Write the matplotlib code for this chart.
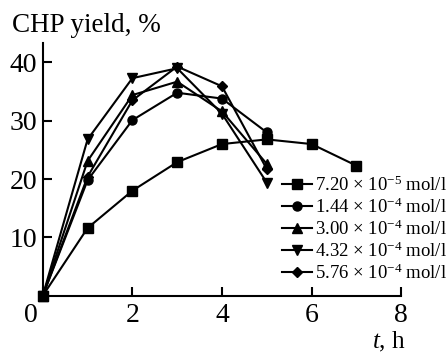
import numpy as np
import matplotlib
matplotlib.use('Agg')
import matplotlib.pyplot as plt
import matplotlib.transforms as mtransforms

plt.rcParams['font.family'] = ['Liberation Serif', 'DejaVu Serif']
plt.rcParams['mathtext.fontset'] = 'custom'
plt.rcParams['mathtext.rm'] = 'Liberation Serif'
plt.rcParams['mathtext.it'] = 'Liberation Serif:italic'

# time, h
t_sq = [0, 1, 2, 3, 4, 5, 6, 7]
t_short = [0, 1, 2, 3, 4, 5]

# CHP yield, % for each initiator concentration
y_720e5 = [0, 11.6, 18.0, 22.9, 26.0, 26.8, 26.0, 22.3]
y_144e4 = [0, 19.8, 30.1, 34.8, 33.8, 28.0]
y_300e4 = [0, 23.1, 34.4, 36.7, 31.6, 22.6]
y_432e4 = [0, 26.8, 37.3, 39.0, 31.2, 19.4]
y_576e4 = [0, 20.4, 33.5, 39.3, 35.9, 21.7]

labels = [r'7.20 $\times$ 10$^{-5}$ mol/l',
          r'1.44 $\times$ 10$^{-4}$ mol/l',
          r'3.00 $\times$ 10$^{-4}$ mol/l',
          r'4.32 $\times$ 10$^{-4}$ mol/l',
          r'5.76 $\times$ 10$^{-4}$ mol/l']

fig = plt.figure(figsize=(4.48, 3.52), dpi=100)
ax = fig.add_axes([0.0955, 0.16, 0.80, 0.719])

series = [(t_sq, y_720e5, 's'), (t_short, y_144e4, 'o'), (t_short, y_300e4, '^'),
          (t_short, y_432e4, 'v'), (t_short, y_576e4, 'D')]
handles = []
for (x, y, m), lab in zip(series, labels):
    ms = 6.5 if m != 'D' else 5.5
    h, = ax.plot(x, y, color='black', lw=1.5, marker=m, ms=ms, label=lab, clip_on=False)
    handles.append(h)

ax.set_xlim(0, 8)
ax.set_ylim(0, 43.4)
ax.spines['top'].set_visible(False)
ax.spines['right'].set_visible(False)
for s in ['left', 'bottom']:
    ax.spines[s].set_linewidth(1.5)

ax.set_xticks([0, 2, 4, 6, 8])
ax.set_yticks([10, 20, 30, 40])
ax.tick_params(direction='in', length=6.5, width=1.5, labelsize=20)
ax.tick_params(axis='x', pad=5.5)
ax.tick_params(axis='y', pad=4)
# shift the shared origin label to the left
offset = mtransforms.ScaledTranslation(-12 / 100, 0, fig.dpi_scale_trans)
lab0 = ax.get_xticklabels()[0]
lab0.set_transform(lab0.get_transform() + offset)

fig.text(12 / 448, 1 - 32 / 352, 'CHP yield, %', fontsize=19.5, va='baseline', ha='left')
fig.text(372 / 448, 1 - 348 / 352, r'$t$, h', fontsize=18, va='baseline', ha='left')

ax.legend(handles=handles, loc='upper left', bbox_to_anchor=(0.629, 0.502),
          bbox_transform=fig.transFigure, frameon=False, fontsize=13.5,
          handlelength=1.6, handletextpad=0.15, borderpad=0, borderaxespad=0,
          labelspacing=0.14)

fig.savefig('out.png', dpi=100)
